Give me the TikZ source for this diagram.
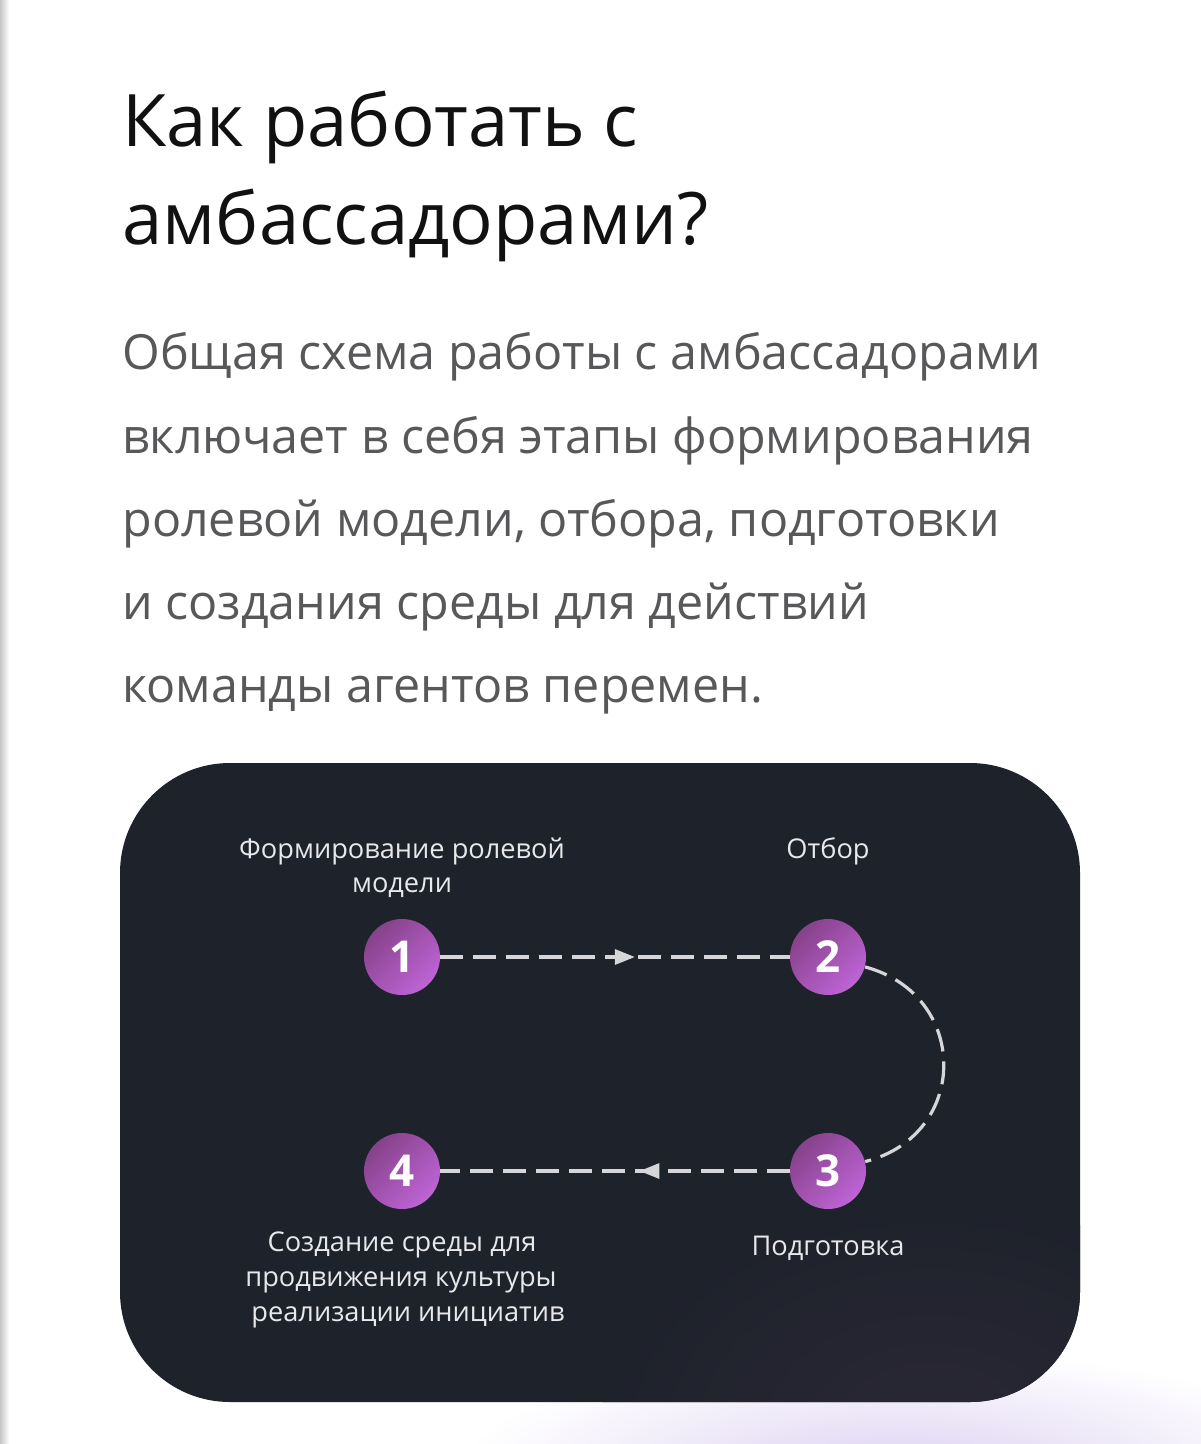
\documentclass[tikz,border=0pt]{standalone}
\usepackage{fontspec}
\setmainfont{Open Sans}
\usetikzlibrary{arrows.meta,decorations.markings}
\definecolor{boxbg}{HTML}{1E222B}
\definecolor{titlec}{HTML}{111111}
\definecolor{parac}{HTML}{58585A}
\definecolor{labelc}{HTML}{E8E8EA}
\definecolor{linec}{HTML}{D6D6D8}
\definecolor{purdark}{HTML}{86428A}
\definecolor{purlight}{HTML}{BE64D6}
\definecolor{glowc}{HTML}{DDD2F2}
\definecolor{innerglow}{HTML}{2A2735}
\definecolor{barc}{HTML}{C6C6C6}
\tikzset{
  titletext/.style={anchor=base west, inner sep=0pt, text=titlec, font=\fontsize{36.2}{44}\selectfont},
  paratext/.style={anchor=base west, inner sep=0pt, text=parac, font=\fontsize{24.2}{30}\selectfont},
  lbl/.style={anchor=base, inner sep=0pt, text=labelc, font=\fontsize{13.6}{16}\selectfont},
  stepcircle/.style={circle, minimum size=38pt, inner sep=0pt, top color=purdark, bottom color=purlight, shading angle=45, text=white, font=\fontsize{22}{24}\selectfont\bfseries},
  dashline/.style={draw=linec, line width=1.6pt, dash pattern=on 11.5pt off 5pt},
  midarrow/.style={postaction={decorate}, decoration={markings, mark=at position #1 with {\arrow[linec]{Triangle[length=10pt,width=7.5pt]}}}},
}
\begin{document}
\begin{tikzpicture}[x=0.5pt,y=-0.5pt]
\useasboundingbox (0,0) rectangle (1200,1444);
\fill[white] (0,0) rectangle (1200,1444);
\shade[left color=barc, right color=white] (0,0) rectangle (9,1444);
% glow below the box
\shade[inner color=glowc, outer color=white] (900,1470) ellipse [x radius=440, y radius=120];
% dark box
\fill[boxbg, rounded corners=55pt] (120,763) rectangle (1080,1402);
\begin{scope}
\clip[rounded corners=55pt] (120,763) rectangle (1080,1402);
\shade[inner color=innerglow, outer color=boxbg] (930,1430) ellipse [x radius=330, y radius=230];
\end{scope}
% title
\node[titletext] (t1) at (122,147) {Как работать с};
\node[titletext] (t2) at (122,245) {амбассадорами?};
% paragraph
\node[paratext] (p1) at (122,370) {Общая схема работы с амбассадорами};
\node[paratext] (p2) at (122,453) {включает в себя этапы формирования};
\node[paratext] (p3) at (122,536) {ролевой модели, отбора, подготовки};
\node[paratext] (p4) at (122,619) {и создания среды для действий};
\node[paratext] (p5) at (122,702) {команды агентов перемен.};
% labels
\node[lbl] (l1a) at (402,858) {Формирование ролевой};
\node[lbl] (l1b) at (402,892) {модели};
\node[lbl] (l2) at (828,858) {Отбор};
\node[lbl] (l3) at (828,1255) {Подготовка};
\node[lbl] (l4a) at (402,1251) {Создание среды для};
\node[lbl] (l4b) at (401,1286) {продвижения культуры};
\node[lbl] (l4c) at (408,1321) {реализации инициатив};
% circles
\node[stepcircle] (n1) at (402,957) {1};
\node[stepcircle] (n2) at (828,957) {2};
\node[stepcircle] (n3) at (828,1171) {3};
\node[stepcircle] (n4) at (402,1171) {4};
% connectors
\draw[dashline, midarrow=0.557] (n1) -- (n2);
\draw[dashline] (n2) .. controls (970,995) and (970,1135) .. (n3);
\draw[dashline, midarrow=0.43] (n3) -- (n4);
\end{tikzpicture}
\end{document}
